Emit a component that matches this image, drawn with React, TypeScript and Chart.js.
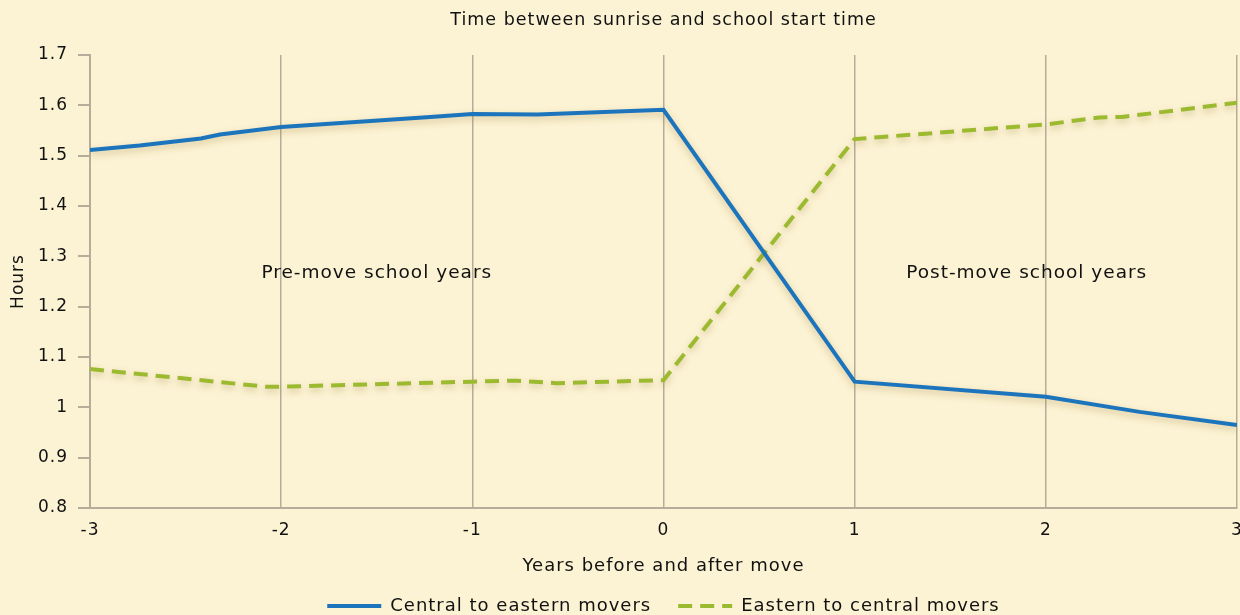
import React, { useEffect, useRef } from "react";
import { Chart, registerables } from "chart.js";

Chart.register(...registerables);

// ---- data ----
const centralYears = [-3, -2.74, -2.42, -2.32, -2, -1.22, -1, -0.66, 0, 1, 2, 2.49, 3];
const centralHours = [1.511, 1.52, 1.534, 1.542, 1.557, 1.577, 1.583, 1.582, 1.591, 1.051, 1.021, 0.991, 0.965];
const easternYears = [-3, -2.08, -2, -1, -0.77, -0.56, 0, 1, 2, 2.28, 2.4, 3];
const easternHours = [1.076, 1.041, 1.041, 1.051, 1.053, 1.048, 1.054, 1.533, 1.562, 1.576, 1.577, 1.605];
const seriesNames = ["Central to eastern movers", "Eastern to central movers"];
const regionLabels = ["Pre-move school years", "Post-move school years"];
const regionLabelYears = [-1.5, 1.9];
const regionLabelHours = [1.267, 1.267];

const chartTitle = "Time between sunrise and school start time";
const xTitle = "Years before and after move";
const yTitle = "Hours";

const BG = "#FCF3D4";
const BLUE = "#1C75BC";
const GREEN = "#9CBA2F";
const GRID = "#B5AD9A";
const TEXT = "#111111";
const FONT = "'DejaVu Sans', 'Noto Sans', sans-serif";
const SPACING = "1px";

export default function App() {
  const ref = useRef<HTMLCanvasElement>(null);

  useEffect(() => {
    document.body.style.margin = "0";
    document.body.style.background = BG;
    const canvas = ref.current!;
    Chart.defaults.font.family = FONT;
    Chart.defaults.color = TEXT;

    const spacingPlugin = {
      id: "spacing",
      beforeUpdate(chart: any) {
        chart.ctx.letterSpacing = SPACING;
      },
      beforeDraw(chart: any) {
        const ctx = chart.ctx;
        ctx.letterSpacing = SPACING;
        ctx.save();
        ctx.fillStyle = BG;
        ctx.fillRect(0, 0, chart.width, chart.height);
        ctx.restore();
      },
    };

    const shadowPlugin = {
      id: "lineShadow",
      beforeDatasetDraw(chart: any) {
        const ctx = chart.ctx;
        ctx.save();
        ctx.shadowColor = "rgba(140,110,30,0.35)";
        ctx.shadowBlur = 7;
        ctx.shadowOffsetY = 3;
      },
      afterDatasetDraw(chart: any) {
        chart.ctx.restore();
      },
    };

    const regionPlugin = {
      id: "regionLabels",
      afterDatasetsDraw(chart: any) {
        const ctx = chart.ctx;
        const xs = chart.scales.x;
        const ys = chart.scales.y;
        ctx.save();
        ctx.font = `18.5px ${FONT}`;
        ctx.fillStyle = TEXT;
        ctx.textAlign = "center";
        ctx.textBaseline = "middle";
        regionLabels.forEach((t, i) => {
          ctx.fillText(t, xs.getPixelForValue(regionLabelYears[i]), ys.getPixelForValue(regionLabelHours[i]));
        });
        ctx.restore();
      },
    };

    const chart = new Chart(canvas, {
      type: "line",
      data: {
        datasets: [
          {
            label: seriesNames[0],
            data: centralYears.map((x, i) => ({ x, y: centralHours[i] })),
            borderColor: BLUE,
            backgroundColor: BLUE,
            borderWidth: 4,
            pointRadius: 0,
            tension: 0,
          },
          {
            label: seriesNames[1],
            data: easternYears.map((x, i) => ({ x, y: easternHours[i] })),
            borderColor: GREEN,
            backgroundColor: GREEN,
            borderWidth: 4,
            borderDash: [14, 8],
            pointRadius: 0,
            tension: 0,
          },
        ],
      },
      plugins: [spacingPlugin, shadowPlugin, regionPlugin],
      options: {
        animation: false,
        responsive: false,
        devicePixelRatio: 1,
        layout: { padding: { left: 0, right: 3, top: 0, bottom: -10 } },
        scales: {
          x: {
            type: "linear",
            min: -3,
            max: 3,
            afterFit(scale: any) {
              scale.height = 62;
              scale.paddingLeft = 0;
              scale.paddingRight = 0;
            },
            ticks: {
              stepSize: 1,
              padding: 12,
              font: { size: 17 },
              color: TEXT,
              maxRotation: 0,
              callback: (v: any) => String(v),
            },
            grid: { color: GRID, lineWidth: 1.5, drawTicks: false },
            border: { color: GRID, width: 2 },
            title: {
              display: true,
              text: xTitle,
              font: { size: 18 },
              color: TEXT,
              padding: { top: 0, bottom: -6.8 },
            },
          },
          y: {
            min: 0.8,
            max: 1.7,
            afterFit(scale: any) {
              scale.width = 90;
            },
            ticks: {
              stepSize: 0.1,
              padding: 10,
              font: { size: 17 },
              color: TEXT,
              callback: (v: any) => String(Math.round(Number(v) * 10) / 10),
            },
            grid: { drawOnChartArea: false, drawTicks: true, tickLength: 12, color: GRID, lineWidth: 2 },
            border: { color: GRID, width: 2 },
            title: {
              display: true,
              text: yTitle,
              font: { size: 17 },
              color: TEXT,
              padding: { top: 8, bottom: 0 },
            },
          },
        },
        plugins: {
          title: {
            display: true,
            text: chartTitle,
            fullSize: false,
            font: { size: 17.5, weight: "normal" },
            color: TEXT,
            padding: { top: 9.5, bottom: 24.5 },
          },
          legend: {
            display: true,
            position: "bottom",
            fullSize: false,
            labels: {
              usePointStyle: true,
              pointStyle: "line",
              pointStyleWidth: 54,
              padding: 27,
              font: { size: 18 },
              color: TEXT,
              generateLabels: (c: any) => {
                const items = Chart.defaults.plugins.legend.labels.generateLabels(c);
                items.forEach((it: any, i: number) => {
                  const ds = c.data.datasets[i];
                  it.lineDash = ds.borderDash || [];
                  it.lineWidth = 4;
                  it.strokeStyle = ds.borderColor;
                  it.fillStyle = ds.borderColor;
                  it.lineCap = "butt";
                });
                return items;
              },
            },
          },
          tooltip: { enabled: false },
        },
      },
    } as any);

    return () => chart.destroy();
  }, []);

  return (
    <div style={{ width: 1240, height: 615, background: BG }}>
      <canvas ref={ref} width={1240} height={615} style={{ display: "block" }} />
    </div>
  );
}
